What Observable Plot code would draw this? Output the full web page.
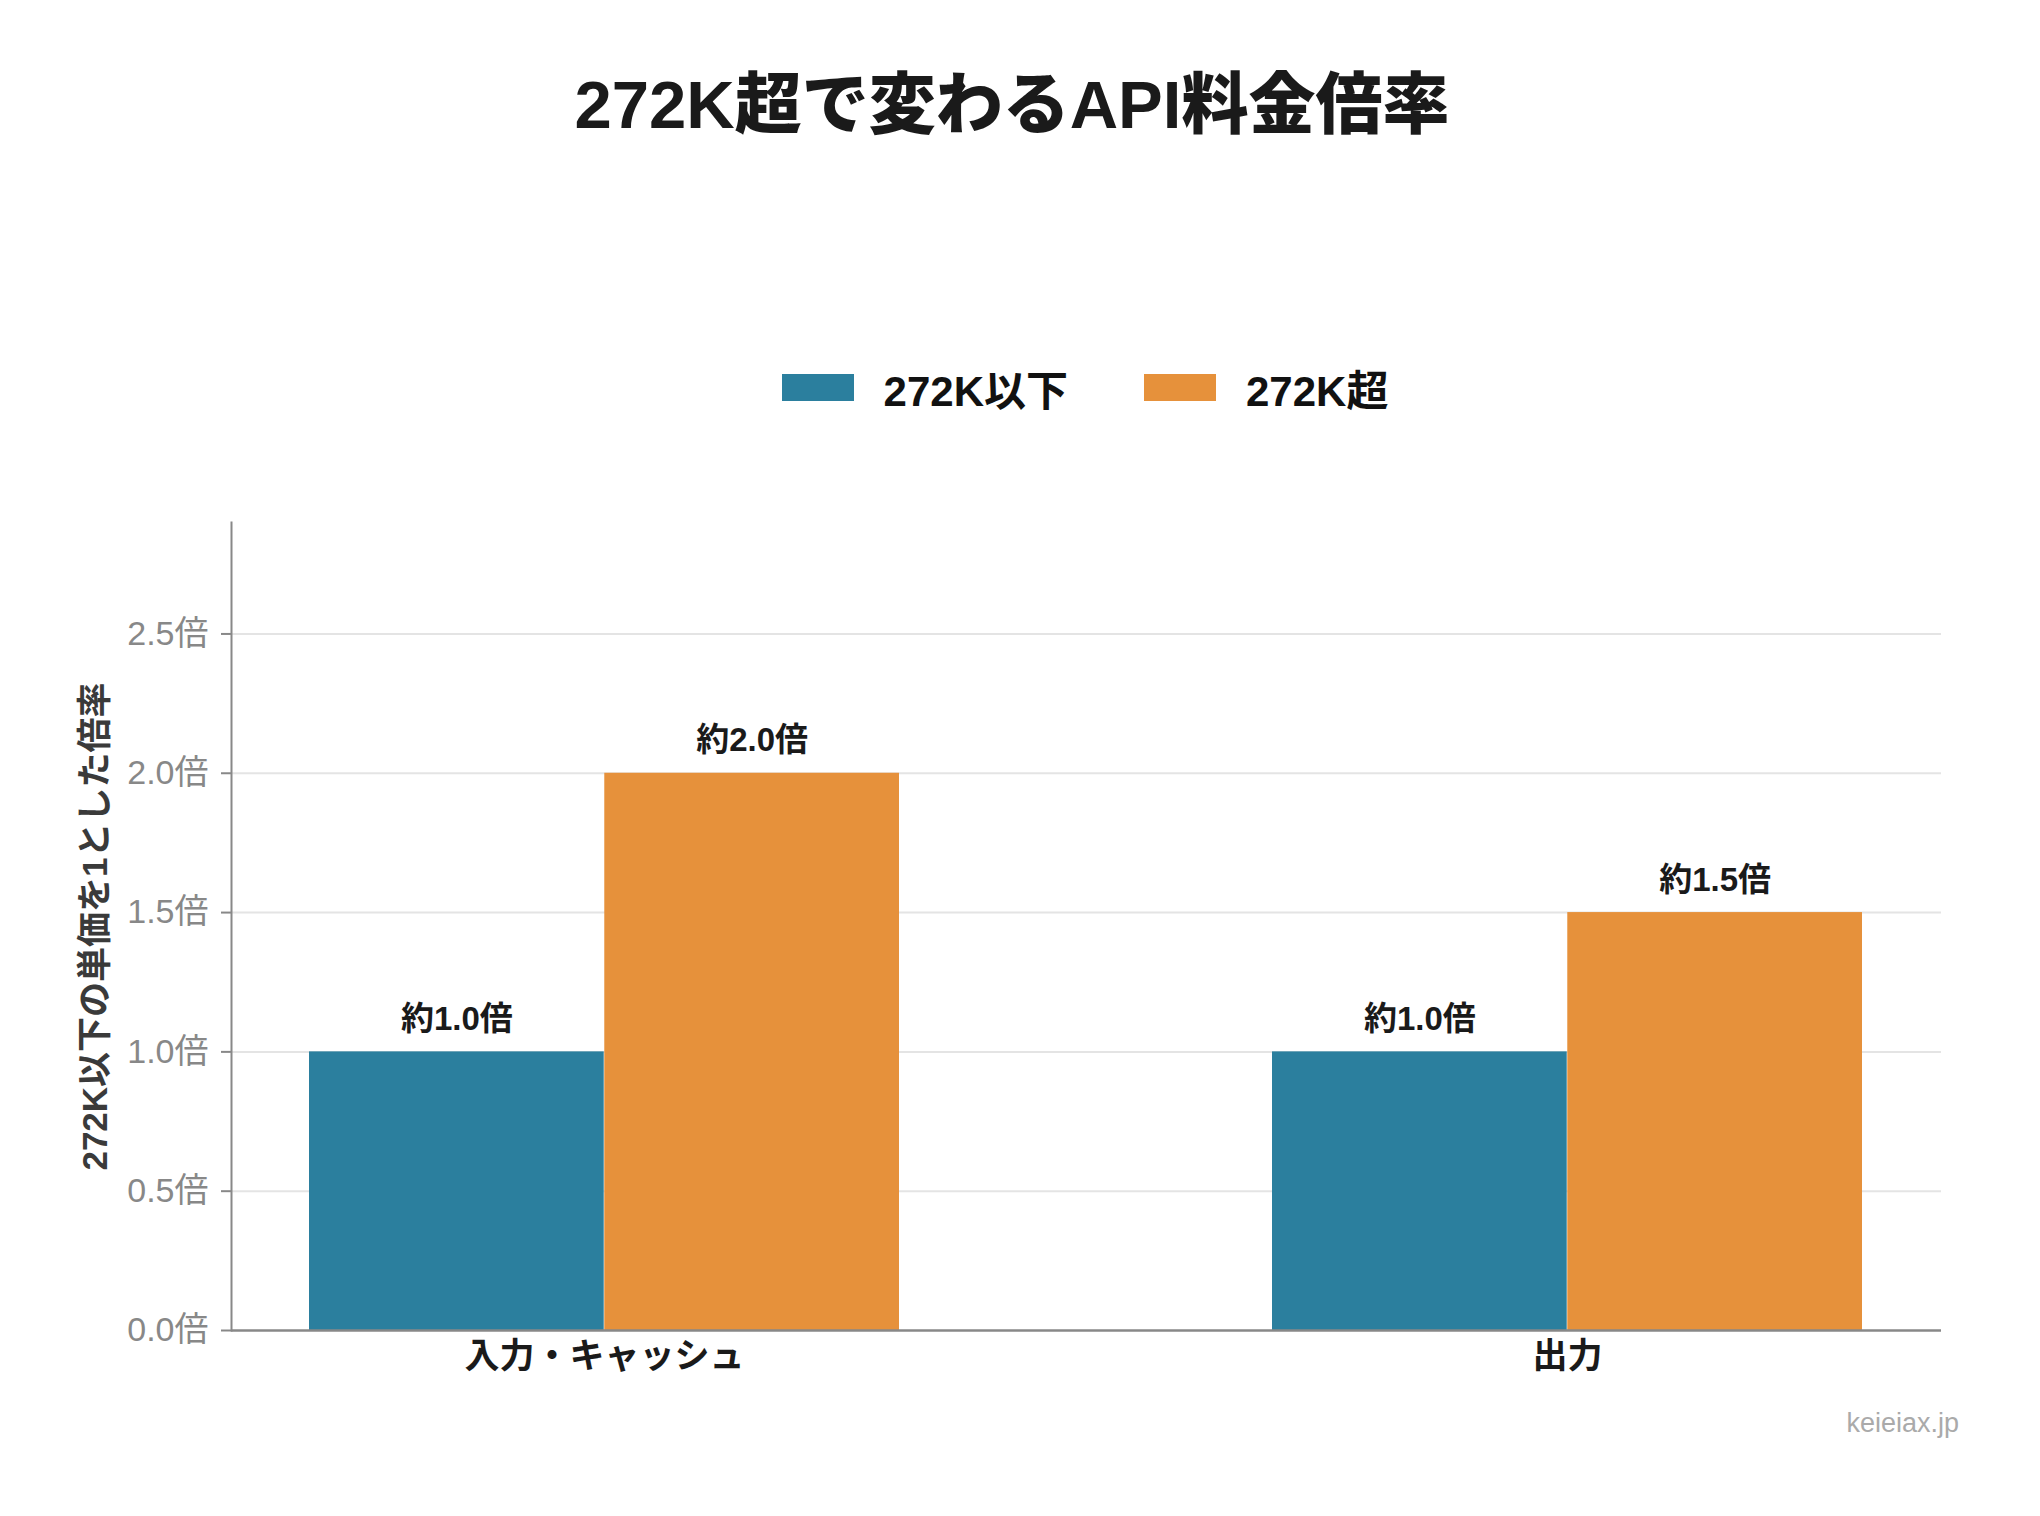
<!DOCTYPE html>
<html>
<head>
<meta charset="utf-8">
<script src="https://cdn.jsdelivr.net/npm/d3@7"></script>
<script src="https://cdn.jsdelivr.net/npm/@observablehq/plot@0.6"></script>
<style>
  html, body { margin: 0; padding: 0; background: #fff; }
  body { width: 2040px; font-family: "Liberation Sans", "Noto Sans CJK JP", sans-serif; }
  #title { height: 210px; line-height: 210px; text-align: center; font-size: 67px; font-weight: 900; color: #1a1a1a; padding-right: 16px; }
  #legend { height: 260px; box-sizing: border-box; padding-top: 94px; padding-left: 229px; padding-right: 99px; display: flex; justify-content: center; align-items: center; }
  .item { display: flex; align-items: center; font-size: 42px; font-weight: 700; color: #111; }
  .item + .item { margin-left: 76px; }
  .sw { width: 72px; height: 27px; margin-right: 30px; }
  #chart svg { display: block; }
  #caption { height: 46px; line-height: 46px; text-align: right; padding-right: 81px; font-size: 27px; color: #aaa; }
</style>
</head>
<body>
<div id="title">272K超で変わるAPI料金倍率</div>
<div id="legend"></div>
<div id="chart"></div>
<div id="caption">keieiax.jp</div>
<script>
const categories = ["入力・キャッシュ", "出力"];
const seriesNames = ["272K以下", "272K超"];
const belowValues = [1.0, 1.0];
const aboveValues = [2.0, 1.5];
const seriesColors = ["#2b7f9e", "#e6913b"];
const yTicks = [0, 0.5, 1.0, 1.5, 2.0, 2.5];
const yLabel = "272K以下の単価を1とした倍率";

const W = 2040, H = 930;
const mL = 231, mR = 99, mT = 52, mB = 70;
const xOpts = {type: "band", domain: categories, range: [mL, W - mR], paddingInner: 0.387, paddingOuter: 0.081};
const xs = Plot.scale({x: xOpts});
const half = xs.bandwidth / 2;

const rows = [];
categories.forEach((c, i) => {
  rows.push({category: c, series: seriesNames[0], value: belowValues[i]});
  rows.push({category: c, series: seriesNames[1], value: aboveValues[i]});
});
const rowsA = rows.filter(d => d.series === seriesNames[0]);
const rowsB = rows.filter(d => d.series === seriesNames[1]);
const fmt = d => `約${d.value.toFixed(1)}倍`;

// legend
const lg = document.getElementById("legend");
seriesNames.forEach((s, i) => {
  const it = document.createElement("div");
  it.className = "item";
  it.innerHTML = `<div class="sw" style="background:${seriesColors[i]}"></div><span>${s}</span>`;
  lg.appendChild(it);
});

const chart = Plot.plot({
  width: W,
  height: H,
  marginLeft: mL,
  marginRight: mR,
  marginTop: mT,
  marginBottom: mB,
  style: {fontFamily: '"Liberation Sans", "Noto Sans CJK JP", sans-serif', background: "#fff", overflow: "visible"},
  x: {...xOpts, range: undefined},
  y: {domain: [0, 2.9]},
  marks: [
    Plot.gridY({ticks: yTicks.filter(t => t > 0), stroke: "#e4e4e4", strokeOpacity: 1, strokeWidth: 2}),
    Plot.barY(rowsA, {x: "category", y: "value", fill: seriesColors[0], insetRight: half}),
    Plot.barY(rowsB, {x: "category", y: "value", fill: seriesColors[1], insetLeft: half}),
    Plot.text(rowsA, {x: "category", y: "value", text: fmt, dx: -half / 2, dy: -22, lineAnchor: "bottom", fontSize: 33, fontWeight: 700, fill: "#1a1a1a"}),
    Plot.text(rowsB, {x: "category", y: "value", text: fmt, dx: half / 2, dy: -22, lineAnchor: "bottom", fontSize: 33, fontWeight: 700, fill: "#1a1a1a"}),
    Plot.ruleY([0], {stroke: "#888", strokeWidth: 2.5}),
    Plot.frame({anchor: "left", stroke: "#888", strokeWidth: 2}),
    Plot.axisY({ticks: yTicks, tickFormat: d => d.toFixed(1) + "倍", tickSize: 10, tickPadding: 13, fontSize: 34, color: "#888", strokeWidth: 2, label: null}),
    Plot.axisX({tickSize: 0, tickPadding: 13, fontSize: 35, fontWeight: 700, color: "#1a1a1a", label: null}),
    Plot.text([yLabel], {text: d => d, frameAnchor: "left", rotate: -90, dx: -136, fontSize: 35, fontWeight: 700, fill: "#3a3a3a", textAnchor: "middle", lineAnchor: "middle"})
  ]
});
document.getElementById("chart").appendChild(chart);
</script>
</body>
</html>
